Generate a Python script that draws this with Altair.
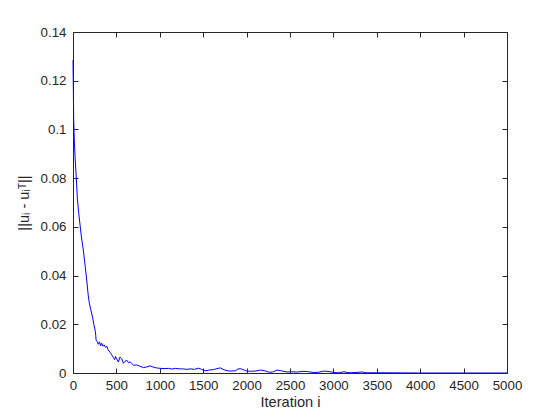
import altair as alt
import pandas as pd

# iteration index
iters = [0, 8, 15, 25, 38, 50, 65, 84, 100, 119, 140, 158, 175, 188, 205, 227, 240, 254, 262,
         266, 280, 292, 305, 318, 331, 345, 360, 375, 389, 405, 427, 445, 466, 480, 490, 504,
         523, 540, 562, 581, 600, 620, 640, 658, 680, 697, 735, 770, 812, 850, 889, 920, 960,
         1005, 1060, 1100, 1140, 1178, 1220, 1260, 1313, 1350, 1400, 1447, 1480, 1524, 1570,
         1620, 1660, 1697, 1740, 1780, 1813, 1870, 1900, 1928, 1960, 2000, 2044, 2100, 2159,
         2210, 2260, 2300, 2352, 2400, 2467, 2520, 2580, 2660, 2700, 2775, 2830, 2890, 2950,
         3006, 3060, 3121, 3160, 3200, 3334, 3380, 3500, 4000, 4500, 5000]
# error norm ||u_i - u_i^T||
errs = [0.1285, 0.104, 0.0956, 0.088, 0.080, 0.0718, 0.066, 0.0599, 0.055, 0.0505, 0.044,
        0.0382, 0.032, 0.0287, 0.026, 0.0226, 0.020, 0.0177, 0.0155,
        0.0135, 0.0128, 0.0118, 0.0128, 0.0112, 0.0122, 0.0110, 0.0115, 0.0105, 0.0110,
        0.0095, 0.0085, 0.0075, 0.0063, 0.0055, 0.0068, 0.0058,
        0.0045, 0.0065, 0.0058, 0.0040, 0.0048, 0.0052, 0.0042, 0.0046, 0.0038, 0.0032,
        0.0033, 0.0028, 0.0022, 0.0025, 0.0029, 0.0025, 0.0021,
        0.0019, 0.0018, 0.0019, 0.0016, 0.0019, 0.0017, 0.0017, 0.0015, 0.0017, 0.0015,
        0.0020, 0.0015, 0.0009, 0.0012, 0.0014, 0.0018, 0.0021, 0.0013, 0.0009, 0.0008,
        0.0009, 0.0016, 0.0018, 0.0014, 0.0008, 0.0007, 0.0008, 0.0012,
        0.0009, 0.0003, 0.0004, 0.0012, 0.0009, 0.0004, 0.0005, 0.0004, 0.0007, 0.0006,
        0.0002, 0.0003, 0.0008, 0.0006, 0.0002, 0.0001, 0.0005, 0.0002, 0.0001, 0.0004,
        0.0001, 0.0001, 0.0, 0.0, 0.0]

x_ticks = [0, 500, 1000, 1500, 2000, 2500, 3000, 3500, 4000, 4500, 5000]
y_ticks = [0, 0.02, 0.04, 0.06, 0.08, 0.1, 0.12, 0.14]

df = pd.DataFrame({"i": iters, "v": errs})

W, H = 434, 341
AX = "#262626"
FONT = "Liberation Sans"


def xs():
    return alt.Scale(domain=[0, 5000], nice=False, zero=False)


def ys():
    return alt.Scale(domain=[0, 0.14], nice=False, zero=False)


base = alt.Chart(df)

main = base.mark_line(color="#0000ff", strokeWidth=1).encode(
    x=alt.X("i:Q", scale=xs(), axis=alt.Axis(
        values=x_ticks, format="d", title="Iteration i", ticks=False, domain=False,
        grid=False, labelPadding=5, titlePadding=3, labelFlush=False,
        titleFontWeight="normal")),
    y=alt.Y("v:Q", scale=ys(), axis=alt.Axis(
        values=y_ticks, format="~g", title="||uᵢ - uᵢᵀ||", ticks=False, domain=False,
        grid=False, labelPadding=7, titlePadding=9, labelFlush=False,
        titleFontWeight="normal")),
)

# inward ticks on bottom / left (axes moved across the plot)
ticks_a = base.mark_line(opacity=0).encode(
    x=alt.X("i:Q", scale=xs(), axis=alt.Axis(
        orient="top", offset=-H, values=x_ticks, labels=False, domain=False, ticks=True,
        tickSize=5, grid=False, title=None)),
    y=alt.Y("v:Q", scale=ys(), axis=alt.Axis(
        orient="right", offset=-W, values=y_ticks, labels=False, domain=False, ticks=True,
        tickSize=5, grid=False, title=None)),
)
# inward ticks on top / right
ticks_b = base.mark_line(opacity=0).encode(
    x=alt.X("i:Q", scale=xs(), axis=alt.Axis(
        orient="bottom", offset=-H, values=x_ticks, labels=False, domain=False, ticks=True,
        tickSize=5, grid=False, title=None)),
    y=alt.Y("v:Q", scale=ys(), axis=alt.Axis(
        orient="left", offset=-W, values=y_ticks, labels=False, domain=False, ticks=True,
        tickSize=5, grid=False, title=None)),
)

chart = alt.layer(main, ticks_a, ticks_b).resolve_scale(
    x="independent", y="independent"
).resolve_axis(
    x="independent", y="independent"
).properties(
    width=W, height=H,
    background="white",
    autosize=alt.AutoSizeParams(type="none"),
    padding={"left": 65, "top": 24, "right": 45, "bottom": 39},
).configure_view(
    stroke=AX, strokeWidth=1
).configure_axis(
    labelFont=FONT, labelFontSize=13.3, labelColor=AX,
    titleFont=FONT, titleFontSize=14.6, titleFontWeight="normal", titleColor=AX,
    tickColor=AX, tickWidth=1,
)

chart.save("out.html", embed_options={"renderer": "svg", "actions": False})
